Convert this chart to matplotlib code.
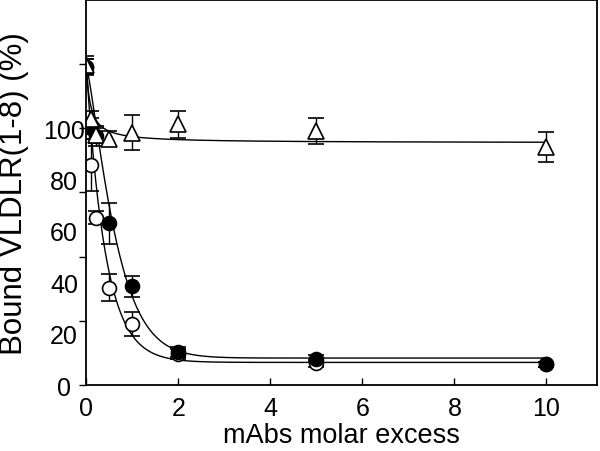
import numpy as np
import matplotlib.pyplot as plt
from matplotlib.ticker import FixedLocator, FixedFormatter, NullFormatter

plt.rcParams['font.family'] = ['Liberation Sans', 'DejaVu Sans']

# mAbs molar excess
x_pts = [0, 0.1, 0.2, 0.5, 1, 2, 5, 10]

# bound VLDLR(1-8) (%) for each antibody
tri_y = [124.5, 103.5, 97.3, 96.0, 98.2, 101.5, 99.0, 92.6]
tri_err = [3.7, 3.2, 3.0, 3.0, 6.8, 5.4, 5.0, 5.8]

filled_y = [124.0, 100.0, 97.0, 63.0, 38.4, 12.9, 10.3, 8.1]
filled_err = [3.0, 4.0, 4.0, 8.0, 4.2, 2.0, 1.5, 1.0]

open_y = [124.0, 85.7, 65.2, 37.9, 23.9, 12.0, 8.4, 8.0]
open_err = [3.0, 10.0, 2.5, 5.2, 4.7, 2.0, 1.5, 1.0]

# fitted curves (bottom, span, shape)
tri_fit = (94.3, 29.7, 0.09)        # hyperbolic decay
filled_fit = (10.5, 113.5, 0.7, 1.25)  # stretched exponential
open_fit = (8.8, 115.0, 2.4)        # exponential

xticks = [0, 2, 4, 6, 8, 10]
ytick_marks = [0, 25, 50, 75, 100, 125]
ytick_labels = [0, 20, 40, 60, 80, 100]

fig = plt.figure(figsize=(6, 4.52), dpi=100)
ax = fig.add_axes([0.144, 0.146, 0.851, 0.852])

xf = np.linspace(0, 10, 600)
b, a, c = tri_fit
ax.plot(xf, b + a / (1 + xf / c), color='black', lw=1)
b, a, t, p = filled_fit
ax.plot(xf, b + a * np.exp(-(xf / t) ** p), color='black', lw=1)
b, a, k = open_fit
ax.plot(xf, b + a * np.exp(-k * xf), color='black', lw=1)

ekw = dict(color='black', elinewidth=1, capsize=6, capthick=1, ls='none')
ax.errorbar(x_pts, open_y, yerr=open_err, marker='o', ms=10, mfc='white',
            mec='black', mew=1.2, **ekw)
ax.errorbar(x_pts, filled_y, yerr=filled_err, marker='o', ms=10, mfc='black',
            mec='black', mew=1.2, **ekw)
ax.errorbar(x_pts, tri_y, yerr=tri_err, marker='^', ms=11, mfc='white',
            mec='black', mew=1.2, **ekw)

ax.set_xlim(0, 11.1)
ax.set_ylim(0, 150)

ax.set_xticks(xticks)
ax.tick_params(axis='x', direction='in', length=5, width=1, pad=8, labelsize=18)

ax.yaxis.remove_overlapping_locs = False
ax.yaxis.set_major_locator(FixedLocator(ytick_marks))
ax.yaxis.set_major_formatter(NullFormatter())
ax.yaxis.set_minor_locator(FixedLocator(ytick_labels))
ax.yaxis.set_minor_formatter(FixedFormatter([str(v) for v in ytick_labels]))
ax.tick_params(axis='y', which='major', direction='out', length=5, width=1)
ax.tick_params(axis='y', which='minor', length=0, pad=16, labelsize=18)
for lab in ax.yaxis.get_minorticklabels():
    lab.set_horizontalalignment('center')

for s in ax.spines.values():
    s.set_linewidth(1.3)

ax.set_xlabel('mAbs molar excess', fontsize=19.5, labelpad=1)
ax.set_ylabel('Bound VLDLR(1-8) (%)', fontsize=22.5)
ax.yaxis.set_label_coords(-0.113, 0.5)

fig.savefig('out.png', dpi=100)
